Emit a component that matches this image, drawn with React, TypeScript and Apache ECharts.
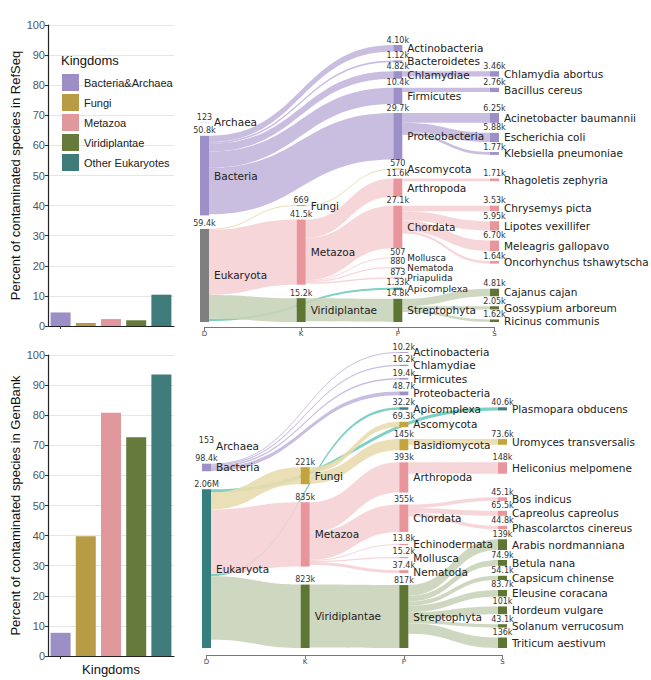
import React, { useEffect, useRef } from "react";
import * as echarts from "echarts";

// ---------- Bar charts ----------
const kingdoms = ["Bacteria&Archaea", "Fungi", "Metazoa", "Viridiplantae", "Other Eukaryotes"];
const kingdomColors = ["#9b8fc6", "#b89c45", "#e0989c", "#667a3c", "#3f7b7b"];
const refseqPercent = [4.5, 1.0, 2.3, 1.9, 10.4];
const genbankPercent = [7.7, 39.8, 80.8, 72.7, 93.5];
const yTicks = { min: 0, max: 100, interval: 10 };
const rankLabels = ["D", "K", "P", "S"];

// ---------- Sankey: RefSeq ----------
// [name, rank(depth), group, value]
const refseqNodes: [string, number, string, number][] = [
  ["Archaea", 0, "bac", 123],
  ["Bacteria", 0, "bac", 50800],
  ["Eukaryota", 0, "euk", 59400],
  ["Fungi", 1, "fun", 669],
  ["Metazoa", 1, "met", 41500],
  ["Viridiplantae", 1, "vir", 15200],
  ["Actinobacteria", 2, "bac", 4100],
  ["Bacteroidetes", 2, "bac", 1120],
  ["Chlamydiae", 2, "bac", 4820],
  ["Firmicutes", 2, "bac", 10400],
  ["Proteobacteria", 2, "bac", 29700],
  ["Ascomycota", 2, "fun", 570],
  ["Arthropoda", 2, "met", 11600],
  ["Chordata", 2, "met", 27100],
  ["Mollusca", 2, "met", 507],
  ["Nematoda", 2, "met", 880],
  ["Priapulida", 2, "met", 873],
  ["Apicomplexa", 2, "oth", 1330],
  ["Streptophyta", 2, "vir", 14800],
  ["Chlamydia abortus", 3, "bac", 3460],
  ["Bacillus cereus", 3, "bac", 2760],
  ["Acinetobacter baumannii", 3, "bac", 6250],
  ["Escherichia coli", 3, "bac", 5880],
  ["Klebsiella pneumoniae", 3, "bac", 1770],
  ["Rhagoletis zephyria", 3, "met", 1710],
  ["Chrysemys picta", 3, "met", 3530],
  ["Lipotes vexillifer", 3, "met", 5950],
  ["Meleagris gallopavo", 3, "met", 6700],
  ["Oncorhynchus tshawytscha", 3, "met", 1640],
  ["Cajanus cajan", 3, "vir", 4810],
  ["Gossypium arboreum", 3, "vir", 2050],
  ["Ricinus communis", 3, "vir", 1620],
];
const refseqLinks: [string, string, number][] = [
  ["Bacteria", "Actinobacteria", 4100],
  ["Bacteria", "Bacteroidetes", 1120],
  ["Bacteria", "Chlamydiae", 4820],
  ["Bacteria", "Firmicutes", 10400],
  ["Bacteria", "Proteobacteria", 29700],
  ["Eukaryota", "Fungi", 669],
  ["Eukaryota", "Metazoa", 41500],
  ["Eukaryota", "Apicomplexa", 1330],
  ["Eukaryota", "Viridiplantae", 15200],
  ["Fungi", "Ascomycota", 570],
  ["Metazoa", "Arthropoda", 11600],
  ["Metazoa", "Chordata", 27100],
  ["Metazoa", "Mollusca", 507],
  ["Metazoa", "Nematoda", 880],
  ["Metazoa", "Priapulida", 873],
  ["Viridiplantae", "Streptophyta", 14800],
  ["Chlamydiae", "Chlamydia abortus", 3460],
  ["Firmicutes", "Bacillus cereus", 2760],
  ["Proteobacteria", "Acinetobacter baumannii", 6250],
  ["Proteobacteria", "Escherichia coli", 5880],
  ["Proteobacteria", "Klebsiella pneumoniae", 1770],
  ["Arthropoda", "Rhagoletis zephyria", 1710],
  ["Chordata", "Chrysemys picta", 3530],
  ["Chordata", "Lipotes vexillifer", 5950],
  ["Chordata", "Meleagris gallopavo", 6700],
  ["Chordata", "Oncorhynchus tshawytscha", 1640],
  ["Streptophyta", "Cajanus cajan", 4810],
  ["Streptophyta", "Gossypium arboreum", 2050],
  ["Streptophyta", "Ricinus communis", 1620],
];

// ---------- Sankey: GenBank ----------
const genbankNodes: [string, number, string, number][] = [
  ["Archaea", 0, "bac", 153],
  ["Bacteria", 0, "bac", 98400],
  ["Eukaryota", 0, "eukT", 2060000],
  ["Fungi", 1, "fun", 221000],
  ["Metazoa", 1, "met", 835000],
  ["Viridiplantae", 1, "vir", 823000],
  ["Actinobacteria", 2, "bac", 10200],
  ["Chlamydiae", 2, "bac", 16200],
  ["Firmicutes", 2, "bac", 19400],
  ["Proteobacteria", 2, "bac", 48700],
  ["Apicomplexa", 2, "oth", 32200],
  ["Ascomycota", 2, "fun", 69300],
  ["Basidiomycota", 2, "fun", 145000],
  ["Arthropoda", 2, "met", 393000],
  ["Chordata", 2, "met", 355000],
  ["Echinodermata", 2, "met", 13800],
  ["Mollusca", 2, "met", 15200],
  ["Nematoda", 2, "met", 37400],
  ["Streptophyta", 2, "vir", 817000],
  ["Plasmopara obducens", 3, "oth", 40600],
  ["Uromyces transversalis", 3, "fun", 73600],
  ["Heliconius melpomene", 3, "met", 148000],
  ["Bos indicus", 3, "met", 45100],
  ["Capreolus capreolus", 3, "met", 65500],
  ["Phascolarctos cinereus", 3, "met", 44800],
  ["Arabis nordmanniana", 3, "vir", 139000],
  ["Betula nana", 3, "vir", 74900],
  ["Capsicum chinense", 3, "vir", 54100],
  ["Eleusine coracana", 3, "vir", 83700],
  ["Hordeum vulgare", 3, "vir", 101000],
  ["Solanum verrucosum", 3, "vir", 43100],
  ["Triticum aestivum", 3, "vir", 136000],
];
const genbankLinks: [string, string, number][] = [
  ["Bacteria", "Actinobacteria", 10200],
  ["Bacteria", "Chlamydiae", 16200],
  ["Bacteria", "Firmicutes", 19400],
  ["Bacteria", "Proteobacteria", 48700],
  ["Eukaryota", "Plasmopara obducens", 40600],
  ["Eukaryota", "Apicomplexa", 32200],
  ["Eukaryota", "Fungi", 221000],
  ["Eukaryota", "Metazoa", 835000],
  ["Eukaryota", "Viridiplantae", 823000],
  ["Fungi", "Ascomycota", 69300],
  ["Fungi", "Basidiomycota", 145000],
  ["Metazoa", "Arthropoda", 393000],
  ["Metazoa", "Chordata", 355000],
  ["Metazoa", "Echinodermata", 13800],
  ["Metazoa", "Mollusca", 15200],
  ["Metazoa", "Nematoda", 37400],
  ["Viridiplantae", "Streptophyta", 817000],
  ["Basidiomycota", "Uromyces transversalis", 73600],
  ["Arthropoda", "Heliconius melpomene", 148000],
  ["Chordata", "Bos indicus", 45100],
  ["Chordata", "Capreolus capreolus", 65500],
  ["Chordata", "Phascolarctos cinereus", 44800],
  ["Streptophyta", "Arabis nordmanniana", 139000],
  ["Streptophyta", "Betula nana", 74900],
  ["Streptophyta", "Capsicum chinense", 54100],
  ["Streptophyta", "Eleusine coracana", 83700],
  ["Streptophyta", "Hordeum vulgare", 101000],
  ["Streptophyta", "Solanum verrucosum", 43100],
  ["Streptophyta", "Triticum aestivum", 136000],
];

const nodeColor: Record<string, string> = {
  bac: "#9d8fc7",
  fun: "#c4a43e",
  met: "#e8959b",
  vir: "#5f7534",
  oth: "#3e8080",
  euk: "#7f7f7f",
  eukT: "#377f7f",
};
const linkColor: Record<string, string> = {
  bac: "#c3b6dd",
  fun: "#e8dcae",
  met: "#f6d2d5",
  vir: "#c9d3b8",
  oth: "#6fcbbb",
};

const fmt = (v: number) =>
  v >= 1e6 ? (v / 1e6).toPrecision(3) + "M" : v >= 1000 ? (v / 1000).toPrecision(3) + "k" : String(v);

const SANS = "Liberation Sans";
const DJ = "DejaVu Sans";
const NAME_FONT = 10.5;

type NodeT = [string, number, string, number];
type LinkT = [string, string, number];

// Vertical arrangement of nodes (fractions of the series height), derived from the
// data with the same node scale the sankey series uses; order within columns is kept.
function arrangeColumns(nodes: NodeT[], links: LinkT[], H: number, gap: number) {
  const cols = [0, 1, 2, 3].map((d) => nodes.filter((n) => n[1] === d));
  const ky = Math.min(
    ...cols
      .filter((c) => c.length)
      .map((c) => (H - (c.length - 1) * gap) / c.reduce((s, n) => s + n[3], 0))
  );
  const h: Record<string, number> = {};
  const depthOf: Record<string, number> = {};
  const groupOf: Record<string, string> = {};
  nodes.forEach((n) => {
    h[n[0]] = n[3] * ky;
    depthOf[n[0]] = n[1];
    groupOf[n[0]] = n[2];
  });
  const y: Record<string, number> = {};
  // middle column: stacked from the top
  let acc = 0;
  cols[2].forEach((n) => {
    y[n[0]] = acc;
    acc += h[n[0]] + gap;
  });
  // first two columns: stacked from the bottom
  const g2 = gap * 1.5;
  [0, 1].forEach((d) => {
    let b = H;
    [...cols[d]].reverse().forEach((n) => {
      y[n[0]] = b - h[n[0]];
      b = y[n[0]] - g2;
    });
  });
  // last column: children grouped and aligned with the top of their parent
  const srcOf: Record<string, string> = {};
  links.forEach(([s, t]) => (srcOf[t] = s));
  const anchorOf = (name: string) => {
    const s = srcOf[name];
    if (depthOf[s] === 2) return s;
    const same = cols[2].find((n) => n[2] === groupOf[name]);
    return same ? same[0] : s;
  };
  const gS = 10;
  const groups: { anchor: string; members: string[] }[] = [];
  cols[3].forEach((n) => {
    const a = anchorOf(n[0]);
    const last = groups[groups.length - 1];
    if (last && last.anchor === a) last.members.push(n[0]);
    else groups.push({ anchor: a, members: [n[0]] });
  });
  const desired: Record<string, number> = {};
  groups.forEach((g) => {
    let yy = y[g.anchor];
    g.members.forEach((m) => {
      desired[m] = yy;
      yy += h[m] + gS;
    });
  });
  let y0 = 0;
  cols[3].forEach((n) => {
    const v = Math.max(desired[n[0]], y0);
    y[n[0]] = v;
    y0 = v + h[n[0]] + gS;
  });
  let yb = H;
  [...cols[3]].reverse().forEach((n) => {
    if (y[n[0]] + h[n[0]] > yb) y[n[0]] = yb - h[n[0]];
    yb = y[n[0]] - gS;
  });
  // label size: shrink where neighbouring node centres are too close
  const font: Record<string, number> = {};
  cols.forEach((c) => {
    const centers = c.map((n) => y[n[0]] + h[n[0]] / 2);
    c.forEach((n, i) => {
      let sp = Infinity;
      if (i > 0) sp = Math.min(sp, centers[i] - centers[i - 1]);
      if (i < c.length - 1) sp = Math.min(sp, centers[i + 1] - centers[i]);
      font[n[0]] = Math.min(NAME_FONT, Math.max(8, sp * 0.88));
    });
  });
  const frac: Record<string, number> = {};
  Object.keys(y).forEach((k) => (frac[k] = y[k] / H));
  return { frac, font };
}

function sankey(
  nodes: NodeT[],
  links: LinkT[],
  box: { left: number; top: number; width: number; height: number },
  gap: number,
  overlay: boolean
) {
  const groupOf: Record<string, string> = {};
  nodes.forEach(([n, , g]) => (groupOf[n] = g));
  const { frac, font } = arrangeColumns(nodes, links, box.height, gap);
  return {
    type: "sankey",
    ...box,
    nodeWidth: 9,
    nodeGap: gap,
    nodeAlign: "left",
    layoutIterations: 0,
    draggable: false,
    silent: overlay,
    emphasis: { disabled: true },
    z: overlay ? 3 : 2,
    data: nodes.map(([name, depth, g, value]) => ({
      name,
      depth,
      value,
      localY: frac[name],
      itemStyle: { color: overlay ? "rgba(0,0,0,0)" : nodeColor[g], borderWidth: 0 },
      label: overlay ? undefined : { fontSize: font[name] },
    })),
    links: links.map(([source, target, value]) => ({
      source,
      target,
      value,
      lineStyle: { color: linkColor[groupOf[target]] },
    })),
    lineStyle: { curveness: 0.5, opacity: overlay ? 0 : 0.9 },
    label: overlay
      ? {
          show: true,
          position: "top",
          distance: 1,
          fontFamily: DJ,
          fontSize: 8,
          lineHeight: 8,
          color: "#333",
          formatter: (p: any) => fmt(p.data.value),
        }
      : {
          show: true,
          position: "right",
          distance: 5,
          fontFamily: DJ,
          fontSize: NAME_FONT,
          color: "#222",
          formatter: "{b}",
        },
  };
}

function barSeries(values: number[], gridIdx: number) {
  return kingdoms.map((k, i) => ({
    type: "bar",
    name: k,
    xAxisIndex: gridIdx,
    yAxisIndex: gridIdx,
    stack: "s" + gridIdx,
    barWidth: 20,
    data: values.map((v, j) => (j === i ? v : "-")),
    itemStyle: { color: kingdomColors[i] },
  }));
}

function yAxisFor(gridIndex: number, name: string) {
  return {
    type: "value",
    gridIndex,
    ...yTicks,
    name,
    nameLocation: "middle",
    nameGap: 26,
    nameTextStyle: { fontFamily: SANS, fontSize: 13, color: "#111" },
    axisLine: { show: true, lineStyle: { color: "#222", width: 1.2 } },
    axisTick: { show: true, length: 3, lineStyle: { color: "#333" } },
    axisLabel: { fontFamily: SANS, fontSize: 11, color: "#555", margin: 3 },
    splitLine: { show: true, lineStyle: { color: "#e6e6e6", width: 1 } },
  };
}

function xCat(gridIndex: number, name: string) {
  return {
    type: "category",
    gridIndex,
    data: kingdoms,
    name,
    nameLocation: "middle",
    nameGap: 7,
    nameTextStyle: { fontFamily: SANS, fontSize: 13, color: "#111" },
    axisLine: { show: true, lineStyle: { color: "#222", width: 1.2 } },
    axisTick: { show: true, alignWithLabel: true, length: 3, lineStyle: { color: "#333" } },
    axisLabel: { show: false },
  };
}

function xRank(gridIndex: number) {
  return {
    type: "value",
    gridIndex,
    min: 0,
    max: 3,
    interval: 1,
    axisLine: { show: true, lineStyle: { color: "#777" } },
    axisTick: { show: true, length: 4, lineStyle: { color: "#777" } },
    axisLabel: {
      fontFamily: DJ,
      fontSize: 7,
      color: "#444",
      margin: 3,
      formatter: (v: number) => rankLabels[v] ?? "",
    },
    splitLine: { show: false },
  };
}

const topBox = { left: 200, top: 45, width: 299, height: 277 };
const botBox = { left: 202, top: 352, width: 305, height: 296 };

export default function App() {
  const ref = useRef<HTMLDivElement>(null);
  useEffect(() => {
    if (!ref.current) return;
    const chart = echarts.init(ref.current, undefined, { renderer: "svg" });
    chart.setOption({
      animation: false,
      backgroundColor: "#ffffff",
      title: {
        text: "Kingdoms",
        left: 56,
        top: 49,
        textStyle: { fontFamily: SANS, fontSize: 13, fontWeight: "normal", color: "#111" },
      },
      legend: {
        data: kingdoms,
        orient: "vertical",
        left: 57,
        top: 69,
        itemWidth: 17,
        itemHeight: 17,
        itemGap: 3,
        icon: "rect",
        selectedMode: false,
        textStyle: { fontFamily: SANS, fontSize: 11, color: "#222" },
      },
      grid: [
        { left: 48, top: 25, width: 126, height: 301 },
        { left: 48, top: 355, width: 126, height: 301 },
        { left: topBox.left + 4.5, top: 326, width: topBox.width - 9, height: 1 },
        { left: botBox.left + 4.5, top: 654, width: botBox.width - 9, height: 1 },
      ],
      xAxis: [xCat(0, ""), xCat(1, "Kingdoms"), xRank(2), xRank(3)],
      yAxis: [
        yAxisFor(0, "Percent of contaminated species in RefSeq"),
        yAxisFor(1, "Percent of contaminated species in GenBank"),
        { type: "value", gridIndex: 2, show: false },
        { type: "value", gridIndex: 3, show: false },
      ],
      series: [
        ...barSeries(refseqPercent, 0),
        ...barSeries(genbankPercent, 1),
        sankey(refseqNodes, refseqLinks, topBox, 9, false),
        sankey(refseqNodes, refseqLinks, topBox, 9, true),
        sankey(genbankNodes, genbankLinks, botBox, 12, false),
        sankey(genbankNodes, genbankLinks, botBox, 12, true),
      ],
    });
    return () => chart.dispose();
  }, []);
  return (
    <div
      ref={ref}
      style={{ position: "absolute", left: 0, top: 0, width: 651, height: 680, background: "#fff" }}
    />
  );
}
